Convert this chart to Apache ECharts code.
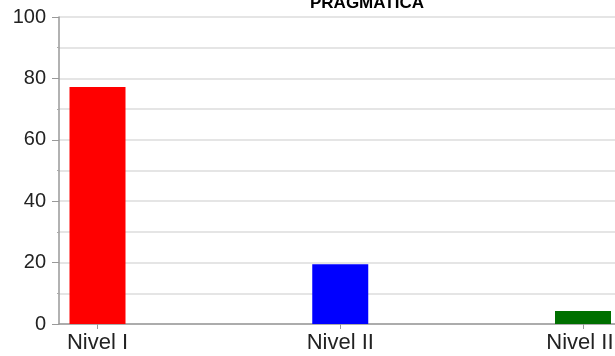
<!DOCTYPE html>
<html>
<head>
<meta charset="utf-8">
<script src="https://cdn.jsdelivr.net/npm/echarts@6/dist/echarts.min.js"></script>
<style>
  html, body { margin: 0; padding: 0; background: #fff; }
  #chart { width: 615px; height: 356px; }
</style>
</head>
<body>
<div id="chart"></div>
<script>
const titleText = "PRAGMATICA";
const categories = ["Nivel I", "Nivel II", "Nivel III"]; // 类别
const values = [77.2, 19.5, 4.2]; // 数值
const barColors = ["#ff0000", "#0000ff", "#007000"];
const yTicks = [0, 20, 40, 60, 80, 100];

const myChart = echarts.init(document.getElementById("chart"));
const catIdx = categories.map((c, i) => i);

myChart.setOption({
  animation: false,
  title: {
    text: titleText,
    left: 305,
    top: -10,
    textStyle: {
      fontFamily: "Liberation Sans",
      fontWeight: "bold",
      fontSize: 17,
      color: "#000",
    },
  },
  grid: {
    left: 59,
    right: 0,
    top: 17,
    bottom: 32,
    outerBoundsMode: "none",
  },
  xAxis: {
    type: "value",
    min: -0.1586,
    max: 2.1318,
    splitLine: { show: false },
    axisLine: { show: true, onZero: false, lineStyle: { color: "#999", width: 1.5 } },
    axisTick: {
      show: true,
      customValues: catIdx,
      length: 5,
      lineStyle: { color: "#999" },
    },
    axisLabel: {
      customValues: catIdx,
      formatter: (v) => categories[Math.round(v)] || "",
      margin: 8,
      fontFamily: "Liberation Sans",
      fontSize: 22,
      color: "#222",
    },
  },
  yAxis: {
    type: "value",
    min: yTicks[0],
    max: yTicks[yTicks.length - 1],
    interval: 20,
    axisLine: { show: true, onZero: false, lineStyle: { color: "#999", width: 1.5 } },
    axisTick: { show: true, length: 7, lineStyle: { color: "#999" } },
    minorTick: { show: true, splitNumber: 2, length: 2, lineStyle: { color: "#aaa" } },
    splitLine: { show: true, lineStyle: { color: "#ddd", width: 1.5 } },
    minorSplitLine: { show: true, lineStyle: { color: "#ddd", width: 1.5 } },
    axisLabel: {
      margin: 13,
      fontFamily: "Liberation Sans",
      fontSize: 20,
      color: "#222",
    },
  },
  series: [
    {
      type: "bar",
      barWidth: 56,
      data: values.map((v, i) => ({
        value: [i, v],
        itemStyle: { color: barColors[i] },
      })),
    },
  ],
});
</script>
</body>
</html>
